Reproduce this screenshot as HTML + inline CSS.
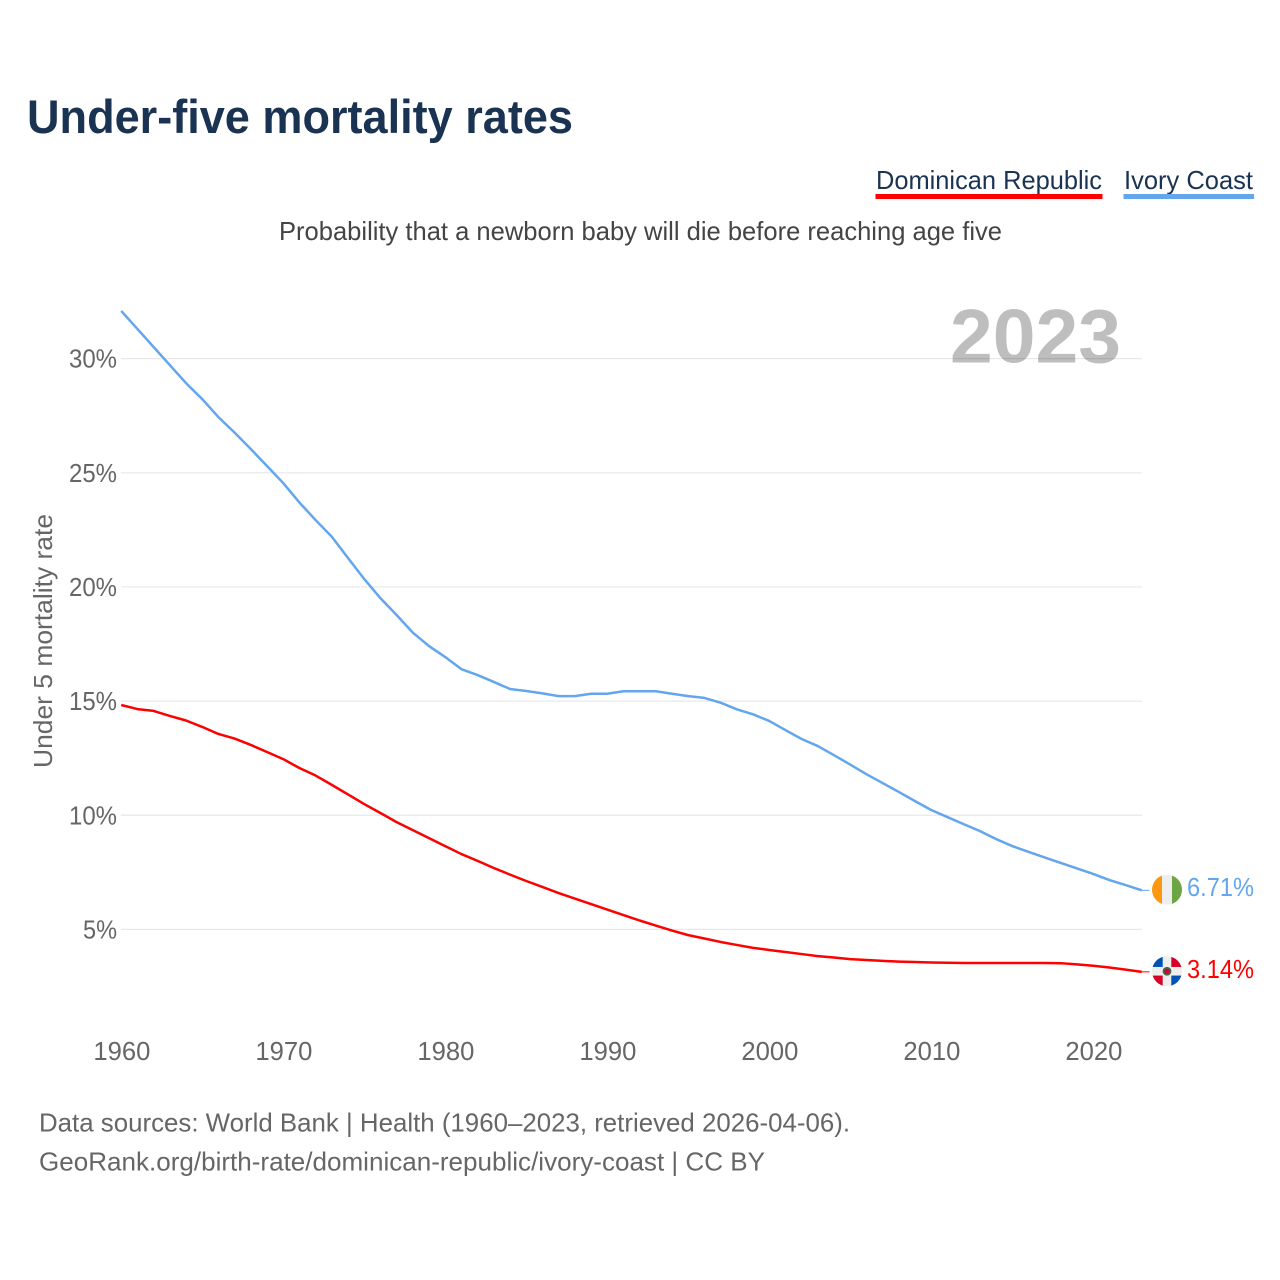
<!DOCTYPE html>
<html lang="en">
<head>
<meta charset="utf-8">
<title>Under-five mortality rates</title>
<style>
html,body{margin:0;padding:0;background:#fff;}
svg{display:block;font-family:"Liberation Sans",sans-serif;}
</style>
</head>
<body>
<svg id="chart" xmlns="http://www.w3.org/2000/svg" width="1280" height="1280" viewBox="0 0 1280 1280">
  <defs>
    <clipPath id="flag-clip"><circle cx="0" cy="0" r="15"/></clipPath>
  </defs>
  <rect x="0" y="0" width="1280" height="1280" fill="#fff"/>
  <text x="27" y="133" font-size="47" font-weight="700" fill="#1a3352" textLength="546" lengthAdjust="spacingAndGlyphs">Under-five mortality rates</text>
  <text x="876" y="189" font-size="26" fill="#1a3352" textLength="226" lengthAdjust="spacingAndGlyphs">Dominican Republic</text>
  <rect x="875.5" y="194" width="227" height="5" fill="#ff0000"/>
  <text x="1124" y="189" font-size="26" fill="#1a3352" textLength="129" lengthAdjust="spacingAndGlyphs">Ivory Coast</text>
  <rect x="1123.5" y="194" width="130.5" height="5" fill="#63a6ee"/>
  <text x="279" y="240" font-size="26" fill="#444" textLength="723" lengthAdjust="spacingAndGlyphs">Probability that a newborn baby will die before reaching age five</text>
  <text x="950" y="362.5" font-size="76" font-weight="700" fill="#bebebe" textLength="171" lengthAdjust="spacingAndGlyphs">2023</text>
  <g id="grid"></g>
  <g id="y-ticks"></g>
  <g id="x-ticks"></g>
  <text transform="translate(52,641) rotate(-90)" text-anchor="middle" font-size="26" fill="#666" textLength="254" lengthAdjust="spacingAndGlyphs">Under 5 mortality rate</text>
  <g id="series"></g>

  <g id="flag-ci">
    <g clip-path="url(#flag-clip)">
      <rect x="-15" y="-15" width="30" height="30" fill="#eeeeee"/>
      <rect x="-15" y="-15" width="10" height="30" fill="#ff9811"/>
      <rect x="5" y="-15" width="10" height="30" fill="#6da544"/>
    </g>
  </g>
  <g id="flag-do">
    <g clip-path="url(#flag-clip)">
      <rect x="-15" y="-15" width="30" height="30" fill="#eeeeee"/>
      <rect x="-15" y="-15" width="10.7" height="10.7" fill="#0052b4"/>
      <rect x="4.3" y="-15" width="10.7" height="10.7" fill="#d80027"/>
      <rect x="-15" y="4.3" width="10.7" height="10.7" fill="#d80027"/>
      <rect x="4.3" y="4.3" width="10.7" height="10.7" fill="#0052b4"/>
      <circle cx="0" cy="0" r="4.4" fill="#3f6a55"/>
      <circle cx="0" cy="0" r="2.6" fill="#d80027"/>
    </g>
  </g>

  <text id="value-ci" x="1187" y="896" font-size="26" fill="#63a6ee" textLength="67" lengthAdjust="spacingAndGlyphs">6.71%</text>
  <text id="value-do" x="1187" y="978" font-size="26" fill="#ff0000" textLength="67" lengthAdjust="spacingAndGlyphs">3.14%</text>

  <text x="39" y="1131.5" font-size="26" fill="#666" textLength="811" lengthAdjust="spacingAndGlyphs">Data sources: World Bank | Health (1960–2023, retrieved 2026-04-06).</text>
  <text x="39" y="1170.5" font-size="26" fill="#666" textLength="726" lengthAdjust="spacingAndGlyphs">GeoRank.org/birth-rate/dominican-republic/ivory-coast | CC BY</text>
</svg>
<script>
var startYear = 1960;
var yTickValues = [5, 10, 15, 20, 25, 30];
var xTickValues = [1960, 1970, 1980, 1990, 2000, 2010, 2020];
var ivoryCoast = [
  32.09, 31.30, 30.51, 29.72, 28.93, 28.23, 27.44, 26.76, 26.04, 25.30,
  24.55, 23.70, 22.93, 22.20, 21.27, 20.35, 19.51, 18.77, 18.00, 17.41,
  16.93, 16.40, 16.14, 15.84, 15.53, 15.44, 15.34, 15.22, 15.22, 15.32,
  15.32, 15.43, 15.43, 15.43, 15.32, 15.22, 15.14, 14.93, 14.64, 14.42,
  14.13, 13.73, 13.34, 13.03, 12.63, 12.22, 11.80, 11.41, 11.02, 10.62,
  10.23, 9.92, 9.61, 9.31, 8.96, 8.65, 8.40, 8.15, 7.91, 7.67,
  7.43, 7.16, 6.94, 6.71
];
var dominicanRepublic = [
  14.83, 14.65, 14.57, 14.35, 14.15, 13.87, 13.56, 13.36, 13.08, 12.77,
  12.46, 12.07, 11.74, 11.33, 10.91, 10.49, 10.10, 9.70, 9.35, 9.00,
  8.65, 8.30, 8.00, 7.69, 7.40, 7.12, 6.86, 6.59, 6.35, 6.11,
  5.87, 5.63, 5.39, 5.17, 4.95, 4.75, 4.60, 4.45, 4.32, 4.19,
  4.10, 4.01, 3.92, 3.83, 3.77, 3.70, 3.66, 3.62, 3.59, 3.57,
  3.55, 3.54, 3.53, 3.53, 3.53, 3.53, 3.53, 3.53, 3.52, 3.47,
  3.41, 3.33, 3.24, 3.14
];

var NS = 'http://www.w3.org/2000/svg';
function xScale(year) { return 121.2 + (year - 1960) * 16.2; }
function yScale(value) { return 929.4 - (value - 5) * 22.83; }
function make(tag, attrs, parent) {
  var el = document.createElementNS(NS, tag);
  for (var k in attrs) el.setAttribute(k, attrs[k]);
  parent.appendChild(el);
  return el;
}

var gridGroup = document.getElementById('grid');
var yGroup = document.getElementById('y-ticks');
yTickValues.forEach(function (v) {
  var line = make('line', {x1: 121, x2: 1142, y1: yScale(v), y2: yScale(v), stroke: 'rgba(0,0,0,0.09)', 'stroke-width': 1.2}, gridGroup);
  
  
  var label = make('text', {x: 117, y: yScale(v) + 9, 'text-anchor': 'end', 'font-size': 26, fill: '#666', textLength: v < 10 ? 34 : 48, lengthAdjust: 'spacingAndGlyphs'}, yGroup);
  
  
  label.textContent = v + '%';
});

var xGroup = document.getElementById('x-ticks');
xTickValues.forEach(function (year) {
  var label = make('text', {x: xScale(year) + 0.7, y: 1060, 'text-anchor': 'middle', 'font-size': 26, fill: '#666', textLength: 57, lengthAdjust: 'spacingAndGlyphs'}, xGroup);
  
  
  label.textContent = year;
});

var seriesGroup = document.getElementById('series');
function drawSeries(values, color, name) {
  var pts = values.map(function (v, i) {
    return xScale(startYear + i).toFixed(2) + ',' + yScale(v).toFixed(2);
  }).join(' ');
  var line = make('polyline', {points: pts, fill: 'none', stroke: color, 'stroke-width': 2.5, 'stroke-linejoin': 'round'}, seriesGroup);
  
  
  var last = yScale(values[values.length - 1]);
  var tail = make('line', {x1: xScale(startYear + values.length - 1), x2: 1149.5, y1: last, y2: last, stroke: color, 'stroke-width': 1}, seriesGroup);
  
  
  return last;
}
var ciY = drawSeries(ivoryCoast, '#63a6ee', 'ivory-coast-line');
var doY = drawSeries(dominicanRepublic, '#ff0000', 'dominican-republic-line');

document.getElementById('flag-ci').setAttribute('transform', 'translate(1167,' + (ciY - 0.6) + ')');
document.getElementById('flag-do').setAttribute('transform', 'translate(1167,' + (doY - 0.6) + ')');
document.getElementById('value-ci').setAttribute('y', ciY + 5.5);
document.getElementById('value-do').setAttribute('y', doY + 6);
</script>
</body>
</html>
